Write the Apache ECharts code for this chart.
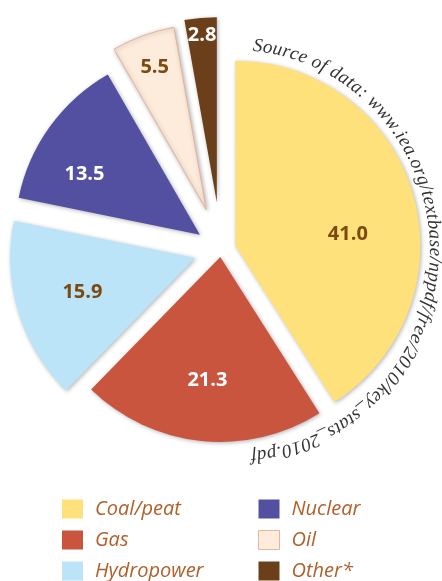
<!DOCTYPE html>
<html>
<head>
<meta charset="utf-8">
<script src="https://cdn.jsdelivr.net/npm/echarts@6/dist/echarts.min.js"></script>
<style>
html, body { margin: 0; padding: 0; background: #fff; }
#main { width: 442px; height: 581px; }
</style>
</head>
<body>
<div id="main"></div>
<script>
var categories = ['Coal/peat', 'Gas', 'Hydropower', 'Nuclear', 'Oil', 'Other*'];
var shares = [41.0, 21.3, 15.9, 13.5, 5.5, 2.8];
var sourceText = 'Source of data: www.iea.org/textbase/nppdf/free/2010/key_stats_2010.pdf';

var sliceColors = ['#FEE17A', '#C9553F', '#BCE4F8', '#5350A1', '#FDEBDC', '#6B3F1A'];
var labelColors = ['#7A4A10', '#FFFFFF', '#7A4A10', '#FFFFFF', '#7A4A10', '#FFFFFF'];
var borderColors = [null, null, null, null, '#E7B39C', null];
// how far each slice is pulled out, and how far from its tip the number sits
var explode = [15, 7, 27, 26, 43, 48];
var labelDist = [111, 121, 115, 127, 148, 165];
// numbers that sit off the middle line of their slice
var labelPadding = [[0, 0, 0, 6], 0, 0, [0, 20, 0, 0], 0, 0];
var labelDrop = [20, 0, 0, 16, 0, 0];

var pieCenter = [221, 250];
var pieRadius = 185;

// every slice gets its own pie so it can be pulled out by its own amount;
// the other slices of that pie are left see-through
function sliceData(own, forLabels) {
    return categories.map(function (name, i) {
        var style = { color: 'rgba(0,0,0,0)', borderWidth: 0 };
        if (i === own && !forLabels) {
            style = {
                color: sliceColors[i],
                borderColor: borderColors[i] || sliceColors[i],
                borderWidth: borderColors[i] ? 1 : 0,
                shadowBlur: 4,
                shadowOffsetX: 1,
                shadowOffsetY: 1,
                shadowColor: 'rgba(0,0,0,0.3)'
            };
        }
        var label = { show: i === own && forLabels, color: labelColors[i], padding: labelPadding[i] };
        if (labelDrop[i]) label.lineHeight = 2 * labelDrop[i];
        return {
            name: name,
            value: shares[i],
            selected: true,
            itemStyle: style,
            label: label
        };
    });
}

function pieSeries(i, forLabels) {
    var inner = forLabels ? 2 * labelDist[i] - pieRadius : 0;
    return {
        type: 'pie',
        center: pieCenter,
        radius: [inner, pieRadius],
        startAngle: 90,
        selectedMode: 'multiple',
        selectedOffset: explode[i],
        avoidLabelOverlap: false,
        silent: true,
        label: {
            show: forLabels,
            position: 'inside',
            fontFamily: 'Open Sans',
            fontWeight: 'bold',
            fontSize: 20,
            formatter: function (p) {
                var txt = p.value.toFixed(1);
                return labelDrop[p.dataIndex] ? '\n' + txt : txt;
            }
        },
        labelLine: { show: false },
        emphasis: { disabled: true },
        data: sliceData(i, forLabels)
    };
}

var series = [];
categories.forEach(function (c, i) { series.push(pieSeries(i, false)); });
categories.forEach(function (c, i) { series.push(pieSeries(i, true)); });

function legendData(idx) {
    return idx.map(function (i) {
        return {
            name: categories[i],
            icon: 'rect',
            itemStyle: {
                color: sliceColors[i],
                borderColor: borderColors[i] || sliceColors[i],
                borderWidth: borderColors[i] ? 1 : 0
            }
        };
    });
}
var legendText = {
    color: '#B0602A',
    fontStyle: 'italic',
    fontSize: 20,
    fontFamily: 'Open Sans',
    padding: [0, 0, 0, 7]
};

// source note bent round the coal slice, one glyph at a time
var arcFont = 'italic 19px "Liberation Serif"';
var arcCenter = [235, 251];
var arcRx = 200, arcRy = 206;
var arcFrom = 5.0 * Math.PI / 180, arcTo = 175.5 * Math.PI / 180;
function arcR(a) {
    var sx = Math.sin(a) / arcRx, cy = Math.cos(a) / arcRy;
    return 1 / Math.sqrt(sx * sx + cy * cy);
}
var ctx = document.createElement('canvas').getContext('2d');
ctx.font = arcFont;
var chars = sourceText.split('');
var widths = chars.map(function (c) { return ctx.measureText(c).width; });
var total = widths.reduce(function (a, b) { return a + b; }, 0);
var arcLen = 0;
for (var k = 0; k < 200; k++) {
    var a0 = arcFrom + (arcTo - arcFrom) * (k + 0.5) / 200;
    arcLen += arcR(a0) * (arcTo - arcFrom) / 200;
}
var gap = (arcLen - total) / (chars.length - 1);
var glyphs = [];
var ang = arcFrom;
chars.forEach(function (c, i) {
    var a = ang + (widths[i] / 2) / arcR(ang);
    var r = arcR(a);
    glyphs.push({
        type: 'text',
        x: arcCenter[0] + r * Math.sin(a),
        y: arcCenter[1] - r * Math.cos(a),
        rotation: -a,
        silent: true,
        style: { text: c, font: arcFont, fill: '#333333', align: 'center', verticalAlign: 'middle' }
    });
    ang += (widths[i] + gap) / r;
});

var chart = echarts.init(document.getElementById('main'));
chart.setOption({
    animation: false,
    backgroundColor: '#ffffff',
    legend: [
        {
            data: legendData([0, 1, 2]),
            orient: 'vertical', left: 62, top: 499, padding: 0,
            itemWidth: 21, itemHeight: 19, itemGap: 11,
            selectedMode: false, textStyle: legendText
        },
        {
            data: legendData([3, 4, 5]),
            orient: 'vertical', left: 258, top: 499, padding: 0,
            itemWidth: 21, itemHeight: 19, itemGap: 11,
            selectedMode: false, textStyle: legendText
        }
    ],
    graphic: glyphs,
    series: series
});
</script>
</body>
</html>
